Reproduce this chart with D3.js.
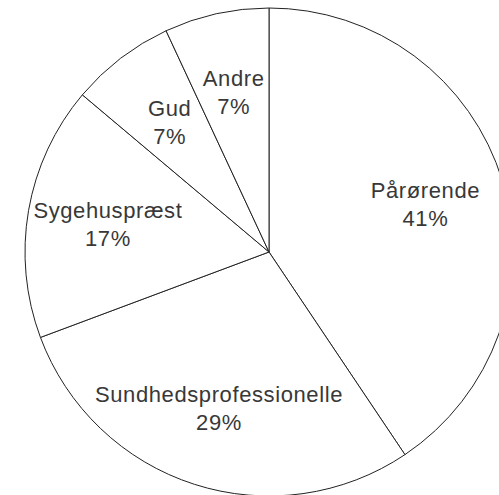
<!DOCTYPE html>
<html>
<head>
<meta charset="utf-8">
<script src="https://cdn.jsdelivr.net/npm/d3@7"></script>
<style>
  html, body { margin: 0; padding: 0; background: #fff; }
  svg { display: block; }
</style>
</head>
<body>
<svg id="chart"></svg>
<script>
// slices, clockwise from 12 o'clock
const categories = ['Pårørende', 'Sundhedsprofessionelle', 'Sygehuspræst', 'Gud', 'Andre'];
const shares = [41, 29, 17, 7, 7];
const shareLabels = ['41%', '29%', '17%', '7%', '7%'];

const width = 499, height = 495;
const cx = 269, cy = 252;
const radius = 244;

const svg = d3.select('#chart')
  .attr('width', width)
  .attr('height', height);

const g = svg.append('g').attr('transform', `translate(${cx},${cy})`);

const pie = d3.pie().sort(null).value(d => d);
const arcs = pie(shares);

const arc = d3.arc().innerRadius(0).outerRadius(radius);

g.selectAll('path.slice')
  .data(arcs)
  .join('path')
  .attr('class', 'slice')
  .attr('d', arc)
  .attr('fill', '#fff')
  .attr('stroke', '#222')
  .attr('stroke-width', 1);

const labelArc = d3.arc().innerRadius(radius * 0.67).outerRadius(radius * 0.67);

const labels = g.selectAll('text.lbl')
  .data(arcs)
  .join('text')
  .attr('class', 'lbl')
  .attr('transform', d => `translate(${labelArc.centroid(d)})`)
  .attr('text-anchor', 'middle')
  .attr('font-family', '"Liberation Sans", Arial, sans-serif')
  .attr('font-size', 22)
  .attr('letter-spacing', 0.6)
  .attr('fill', '#383838');

labels.append('tspan')
  .attr('x', 0)
  .attr('dy', -6)
  .text((d, i) => categories[i]);

labels.append('tspan')
  .attr('x', 0)
  .attr('dy', 28)
  .text((d, i) => shareLabels[i]);
</script>
</body>
</html>
